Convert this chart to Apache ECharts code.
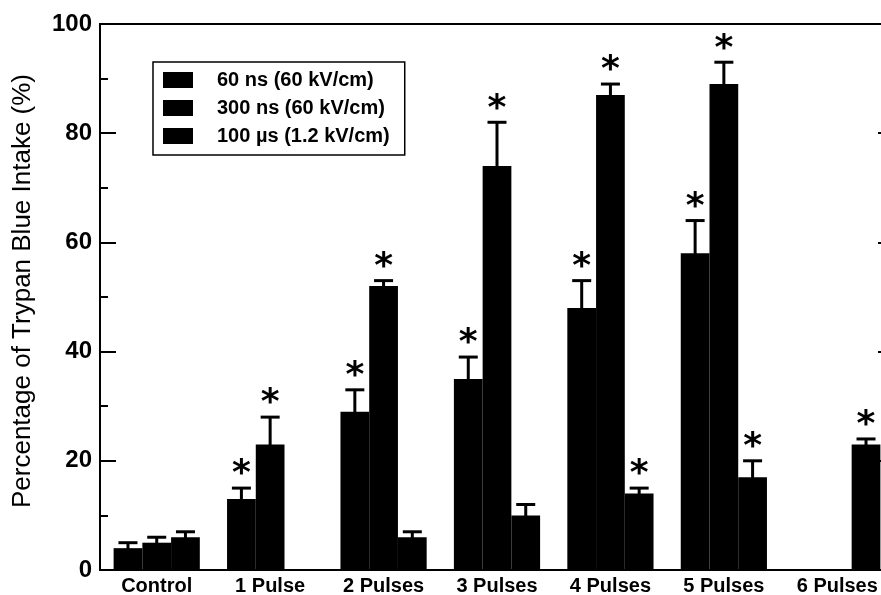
<!DOCTYPE html>
<html>
<head>
<meta charset="utf-8">
<script src="https://cdn.jsdelivr.net/npm/echarts@6/dist/echarts.min.js"></script>
<style>
  html, body { margin: 0; padding: 0; background: #ffffff; }
  #chart { width: 881px; height: 595px; }
</style>
</head>
<body>
<div id="chart"></div>
<script>
// Trypan blue uptake after pulsed electric field exposure
const categories = ['Control', '1 Pulse', '2 Pulses', '3 Pulses', '4 Pulses', '5 Pulses', '6 Pulses'];
const seriesNames = ['60 ns (60 kV/cm)', '300 ns (60 kV/cm)', '100 \u00b5s (1.2 kV/cm)'];

// mean uptake (%)
const ns60 = [4, 13, 29, 35, 48, 58, null];
const ns300 = [5, 23, 52, 74, 87, 89, null];
const us100 = [6, null, 6, 10, 14, 17, 23];

// upper error (%)
const ns60Err = [1, 2, 4, 4, 5, 6, null];
const ns300Err = [1, 5, 1, 8, 2, 4, null];
const us100Err = [1, null, 1, 2, 1, 3, 1];

// significance markers (1 = *)
const ns60Sig = [0, 1, 1, 1, 1, 1, 0];
const ns300Sig = [0, 1, 1, 1, 1, 1, 0];
const us100Sig = [0, 0, 0, 0, 1, 1, 1];

const yTicks = [0, 20, 40, 60, 80, 100];

const FONT = '"Liberation Sans", Arial, Helvetica, sans-serif';
const STAR_FONT = 'bold 36px "DejaVu Sans", sans-serif';
const CAT_GAP = 0.24;
const values = [ns60, ns300, us100];
const errs = [ns60Err, ns300Err, us100Err];
const sigs = [ns60Sig, ns300Sig, us100Sig];

function errorData(k) {
  const out = [];
  values[k].forEach((v, i) => {
    if (v !== null) out.push([i, v, errs[k][i], sigs[k][i]]);
  });
  return out;
}

// upper error whisker with cap, plus a significance star above it
function makeErrorRenderer(k) {
  return function (params, api) {
    const ci = api.value(0), v = api.value(1), e = api.value(2), s = api.value(3);
    const band = api.size([1, 0])[0];
    const barW = band * (1 - CAT_GAP) / 3;
    const base = api.coord([ci, v]);
    const x = base[0] + (k - 1) * barW;
    const top = api.coord([ci, v + e])[1];
    const children = [
      { type: 'line', shape: { x1: x, y1: base[1] + 1, x2: x, y2: top }, style: { stroke: '#000', lineWidth: 3 } },
      { type: 'line', shape: { x1: x - 9.5, y1: top, x2: x + 9.5, y2: top }, style: { stroke: '#000', lineWidth: 3 } }
    ];
    if (s) {
      children.push({
        type: 'text',
        style: {
          text: '*', x: x, y: top - 13,
          fill: '#000', font: STAR_FONT,
          textAlign: 'center', textVerticalAlign: 'middle'
        }
      });
    }
    return { type: 'group', children: children };
  };
}

const axisLineStyle = { color: '#000', width: 2 };

const option = {
  animation: false,
  backgroundColor: '#ffffff',
  grid: {
    left: 100, top: 24, width: 794, height: 546,
    outerBoundsMode: 'none', containLabel: false,
    show: true, borderColor: '#000', borderWidth: 2, backgroundColor: 'transparent'
  },
  legend: {
    data: seriesNames,
    orient: 'vertical',
    left: 153, top: 62,
    itemWidth: 30, itemHeight: 16, itemGap: 8,
    icon: 'rect',
    selectedMode: false,
    borderColor: '#000', borderWidth: 1.5,
    padding: [8, 15, 9, 10],
    textStyle: {
      color: '#000', fontFamily: FONT, fontWeight: 'bold', fontSize: 20,
      padding: [0, 0, 0, 19]
    }
  },
  xAxis: {
    type: 'category',
    data: categories,
    axisLine: { lineStyle: axisLineStyle },
    axisTick: { show: false },
    axisLabel: { color: '#000', fontFamily: FONT, fontWeight: 'bold', fontSize: 20, margin: 6, interval: 0 },
    splitLine: { show: false }
  },
  yAxis: [
    {
      type: 'value', min: 0, max: 100, interval: 20, position: 'left',
      name: 'Percentage of Trypan Blue Intake (%)',
      nameLocation: 'middle', nameGap: 64,
      nameTextStyle: { color: '#000', fontFamily: FONT, fontSize: 26, padding: [0, 0, 0, 12] },
      axisLine: { show: true, lineStyle: axisLineStyle },
      axisTick: { show: true, inside: true, length: 16, lineStyle: { color: '#000', width: 2 } },
      minorTick: { show: true, splitNumber: 2, length: 8, lineStyle: { color: '#000', width: 2 } },
      axisLabel: {
        color: '#000', fontFamily: FONT, fontWeight: 'bold', fontSize: 24, margin: 8,
        formatter: (val) => (yTicks.indexOf(val) >= 0 ? String(val) : '')
      },
      splitLine: { show: false }
    },
    {
      type: 'value', min: 0, max: 100, interval: 20, position: 'right',
      axisLine: { show: true, lineStyle: axisLineStyle },
      axisTick: { show: true, inside: true, length: 16, lineStyle: { color: '#000', width: 2 } },
      axisLabel: { show: false },
      splitLine: { show: false }
    }
  ],
  series: [
    ...seriesNames.map((name, k) => ({
      name: name,
      type: 'bar',
      data: values[k],
      barGap: '0%',
      barCategoryGap: (CAT_GAP * 100) + '%',
      itemStyle: { color: '#000' },
      z: 2
    })),
    ...seriesNames.map((name, k) => ({
      type: 'custom',
      renderItem: makeErrorRenderer(k),
      data: errorData(k),
      encode: { x: 0, y: 1 },
      z: 3,
      silent: true
    }))
  ]
};

const chart = echarts.init(document.getElementById('chart'), null, { renderer: 'canvas' });
chart.setOption(option);
</script>
</body>
</html>
